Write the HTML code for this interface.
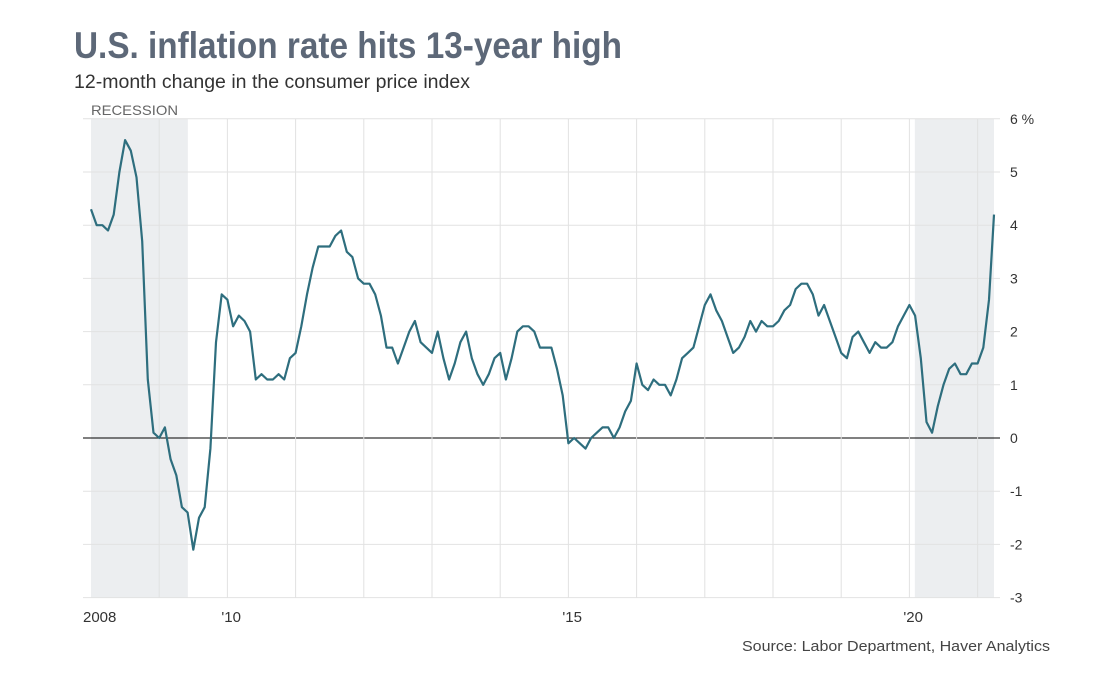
<!DOCTYPE html>
<html><head><meta charset="utf-8"><style>
body{margin:0;background:#fff;font-family:"Liberation Sans",sans-serif;}
</style></head><body>
<svg width="1102" height="683" xmlns="http://www.w3.org/2000/svg">
<text x="74" y="58" font-size="37" font-weight="bold" fill="#5d6878" textLength="548" lengthAdjust="spacingAndGlyphs">U.S. inflation rate hits 13-year high</text>
<text x="74" y="88" font-size="19" fill="#333" textLength="396" lengthAdjust="spacingAndGlyphs">12-month change in the consumer price index</text>
<text x="91" y="115" font-size="14" fill="#666" textLength="87" lengthAdjust="spacingAndGlyphs">RECESSION</text>
<g id="plot"></g>
<text x="742" y="651" font-size="15" fill="#444" textLength="308" lengthAdjust="spacingAndGlyphs">Source: Labor Department, Haver Analytics</text>
</svg>
<script>
const values=[4.3,4.0,4.0,3.9,4.2,5.0,5.6,5.4,4.9,3.7,1.1,0.1,
0.0,0.2,-0.4,-0.7,-1.3,-1.4,-2.1,-1.5,-1.3,-0.2,1.8,2.7,
2.6,2.1,2.3,2.2,2.0,1.1,1.2,1.1,1.1,1.2,1.1,1.5,
1.6,2.1,2.7,3.2,3.6,3.6,3.6,3.8,3.9,3.5,3.4,3.0,
2.9,2.9,2.7,2.3,1.7,1.7,1.4,1.7,2.0,2.2,1.8,1.7,
1.6,2.0,1.5,1.1,1.4,1.8,2.0,1.5,1.2,1.0,1.2,1.5,
1.6,1.1,1.5,2.0,2.1,2.1,2.0,1.7,1.7,1.7,1.3,0.8,
-0.1,0.0,-0.1,-0.2,0.0,0.1,0.2,0.2,0.0,0.2,0.5,0.7,
1.4,1.0,0.9,1.1,1.0,1.0,0.8,1.1,1.5,1.6,1.7,2.1,
2.5,2.7,2.4,2.2,1.9,1.6,1.7,1.9,2.2,2.0,2.2,2.1,
2.1,2.2,2.4,2.5,2.8,2.9,2.9,2.7,2.3,2.5,2.2,1.9,
1.6,1.5,1.9,2.0,1.8,1.6,1.8,1.7,1.7,1.8,2.1,2.3,
2.5,2.3,1.5,0.3,0.1,0.6,1.0,1.3,1.4,1.2,1.2,1.4,
1.4,1.7,2.6,4.2];
const startYear=2008;
const yTicks=[6,5,4,3,2,1,0,-1,-2,-3];
const yTickLabels=["6 %","5","4","3","2","1","0","-1","-2","-3"];
const xTickYears=[2008,2010,2015,2020];
const xTickLabels=["2008","'10","'15","'20"];
const recessions=[[2007.92,2009.42],[2020.08,2021.3]];
const NS="http://www.w3.org/2000/svg";
const g=document.getElementById('plot');
const x0=91,yearW=68.2,left=83,right=994;
const X=t=>Math.min(right,Math.max(x0,x0+(t-startYear)*yearW));
const Y=v=>438-v*53.2;
function mk(tag,a){const e=document.createElementNS(NS,tag);for(const k in a)e.setAttribute(k,a[k]);g.appendChild(e);return e;}
recessions.forEach(r=>{const e=mk('rect',{x:X(r[0]),y:Y(6),width:X(r[1])-X(r[0]),height:Y(-3)-Y(6),fill:'#eceef0'});

});
yTicks.forEach((v,i)=>{const l=mk('line',{x1:left,x2:right+6,y1:Y(v),y2:Y(v),stroke:v===0?'#000':'#e2e2e2','stroke-width':1});


const t=mk('text',{x:1010,y:Y(v)+5,'font-size':14,fill:'#333'});t.textContent=yTickLabels[i];

});
for(let yr=2009;yr<=2021;yr++){const l=mk('line',{x1:X(yr),x2:X(yr),y1:Y(6),y2:Y(-3),stroke:'#e2e2e2'});

}
xTickYears.forEach((yr,i)=>{const t=mk('text',{x:X(yr)+(i===0?-8:-6),y:622,'font-size':15,fill:'#333'});t.textContent=xTickLabels[i];

});
const pts=values.map((v,i)=>X(startYear+i/12).toFixed(1)+','+Y(v).toFixed(1)).join(' ');
const p=mk('polyline',{points:pts,fill:'none',stroke:'#2e6e7e','stroke-width':2.2,'stroke-linejoin':'round'});


</script>
</body></html>
